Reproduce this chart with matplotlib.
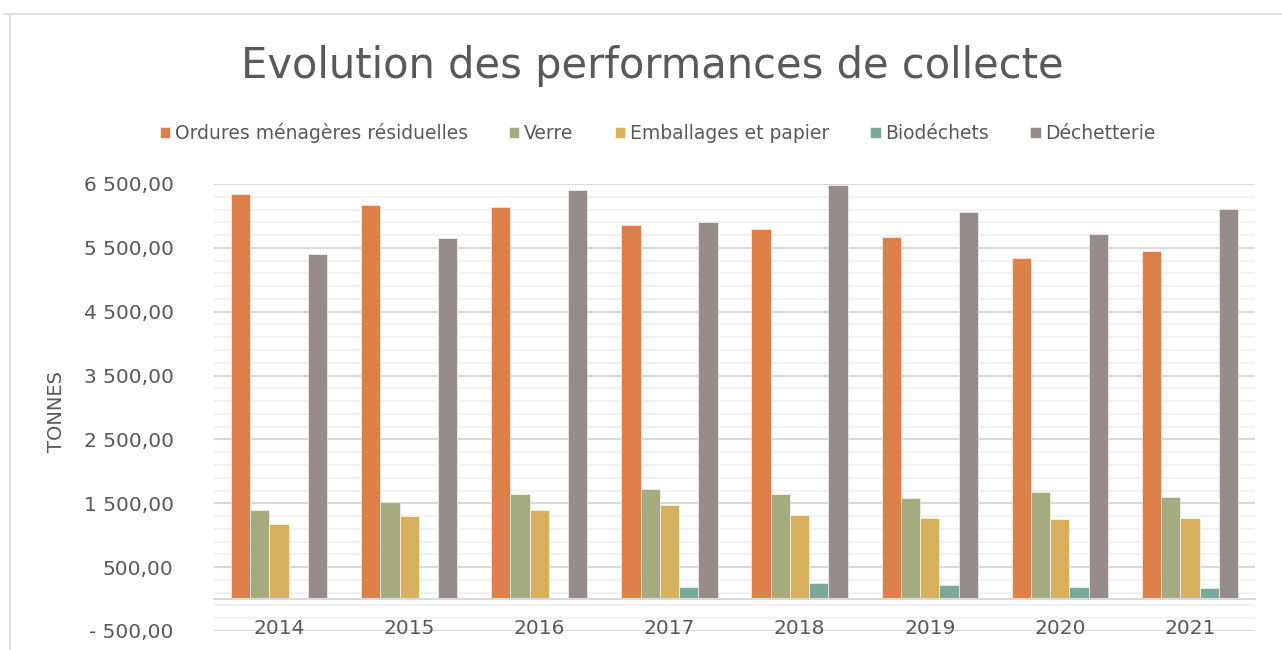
import numpy as np
import matplotlib.pyplot as plt
from matplotlib.lines import Line2D
from matplotlib.ticker import FixedLocator, FuncFormatter

years = ['2014', '2015', '2016', '2017', '2018', '2019', '2020', '2021']
series_names = ['Ordures ménagères résiduelles', 'Verre', 'Emballages et papier',
                'Biodéchets', 'Déchetterie']
omr = [6336, 6170, 6143, 5856, 5803, 5672, 5342, 5452]
verre = [1402, 1527, 1642, 1716, 1653, 1585, 1669, 1601]
emballages = [1177, 1297, 1402, 1480, 1323, 1266, 1256, 1266]
biodechets = [0, 0, 0, 193, 256, 214, 193, 167]
dechetterie = [5400, 5651, 6410, 5907, 6478, 6059, 5719, 6107]
colors = ['#DD7F48', '#A5AA7F', '#D7B05E', '#7BA89C', '#968C8A']

text_col = '#595959'
plt.rcParams['font.family'] = ['DejaVu Sans']

fig = plt.figure(figsize=(12.82, 6.5), dpi=100)
ax = fig.add_axes([214 / 1282, 1 - 631 / 650, (1255 - 214) / 1282, (631 - 184) / 650])

x = np.arange(len(years))
w = 0.148
all_series = [omr, verre, emballages, biodechets, dechetterie]
for i, (vals, name, c) in enumerate(zip(all_series, series_names, colors)):
    ax.bar(x + (i - 2) * w, vals, w, color=c, label=name, edgecolor='white',
           linewidth=0.4, zorder=3)

ax.set_xlim(-0.5, len(years) - 0.5)
ax.set_ylim(-500, 6500)

# gridlines: major every 1000 from -500, minor every 200
for v in np.arange(-500, 6501, 200):
    ax.axhline(v, color='#F2F2F2', lw=1.5, zorder=0)
for v in np.arange(-500, 6501, 1000):
    ax.axhline(v, color='#D9D9D9', lw=1.5, zorder=1)

def fmt(v, pos):
    s = f'{abs(v):,.2f}'.replace(',', ' ').replace('.', ',')
    return ('- ' + s) if v < 0 else s

ax.yaxis.set_major_locator(FixedLocator(np.arange(-500, 6501, 1000)))
ax.yaxis.set_major_formatter(FuncFormatter(fmt))
ax.tick_params(axis='y', length=0, pad=29, labelsize=14.5, labelcolor=text_col)

ax.set_xticks(x)
ax.set_xticklabels(years)
ax.tick_params(axis='x', length=0, pad=14, labelsize=14.5, labelcolor=text_col)

for s in ['top', 'right', 'left']:
    ax.spines[s].set_visible(False)
ax.spines['bottom'].set_position(('data', 0))
ax.spines['bottom'].set_color('#D9D9D9')
ax.spines['bottom'].set_linewidth(1.5)
ax.spines['bottom'].set_zorder(4)

ax.set_ylabel('TONNES', fontsize=14, color=text_col)
ax.yaxis.set_label_coords(-148 / 1041, 0.49)

fig.text(0.509, 1 - 66 / 650, 'Evolution des performances de collecte',
         ha='center', va='center', fontsize=30, color=text_col)

leg = fig.legend(loc='center', bbox_to_anchor=(0.513, 1 - 133 / 650), ncol=5,
                 frameon=False, fontsize=13.5, handlelength=0.55, handleheight=0.55,
                 handletextpad=0.25, columnspacing=2.2, labelcolor=text_col)

# chart frame (partially cropped)
fig.add_artist(Line2D([4 / 1282, 1], [1 - 14 / 650, 1 - 14 / 650], color='#D9D9D9', lw=1.2))
fig.add_artist(Line2D([10 / 1282, 10 / 1282], [0, 1 - 14 / 650], color='#D9D9D9', lw=1.2))

fig.savefig('out.png', dpi=100)
